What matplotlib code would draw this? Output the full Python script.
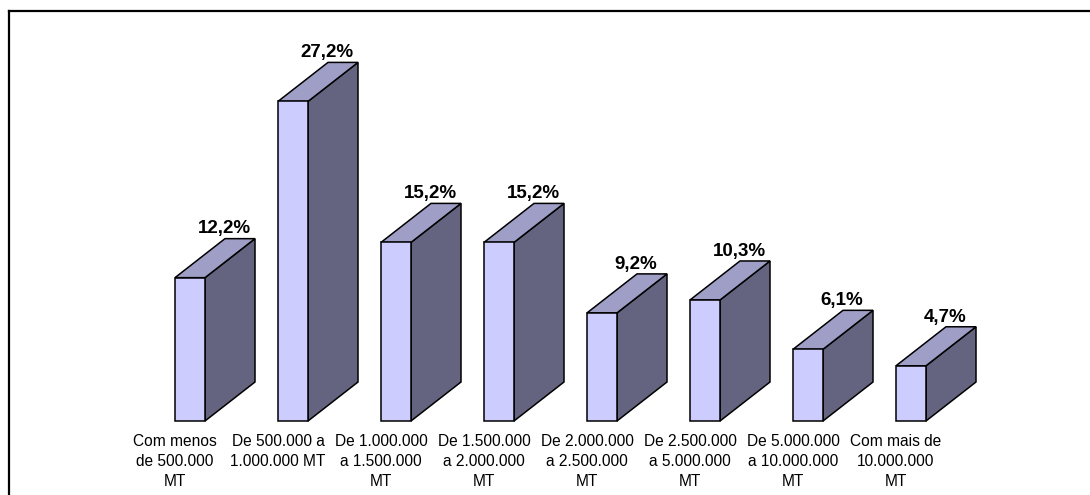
import matplotlib
matplotlib.use("Agg")
import matplotlib.pyplot as plt
from matplotlib.patches import Polygon
from matplotlib.lines import Line2D

plt.rcParams["font.family"] = ["Liberation Sans", "DejaVu Sans"]

categories = [
    "Com menos\nde 500.000\nMT",
    "De 500.000 a\n1.000.000 MT",
    "De 1.000.000\na 1.500.000\nMT",
    "De 1.500.000\na 2.000.000\nMT",
    "De 2.000.000\na 2.500.000\nMT",
    "De 2.500.000\na 5.000.000\nMT",
    "De 5.000.000\na 10.000.000\nMT",
    "Com mais de\n10.000.000\nMT",
]
values = [12.2, 27.2, 15.2, 15.2, 9.2, 10.3, 6.1, 4.7]
value_labels = ["12,2%", "27,2%", "15,2%", "15,2%", "9,2%", "10,3%", "6,1%", "4,7%"]

FRONT = "#CCCCFF"
TOP = "#9E9EC6"
SIDE = "#646480"

W, H, DPI = 1090, 495, 100
fig = plt.figure(figsize=(W / DPI, H / DPI), dpi=DPI)
fig.patch.set_facecolor("white")

# pixel layout: category i label centre at x = 175 + 103*i, base at y = 421,
# 11.75 px per percentage point
ax = fig.add_axes([0, 0, 1, 1])
ax.set_xlim(-175 / 103, (W - 175) / 103)
ax.set_ylim(-(H - 421) / 11.75, 421 / 11.75)
ax.axis("off")

w = 30 / 103      # front face width
dx = 50 / 103     # depth, horizontal
dy = 39 / 11.75   # depth, vertical

for i, v in enumerate(values):
    x0, x1 = i, i + w
    front = [(x0, 0), (x1, 0), (x1, v), (x0, v)]
    side = [(x1, 0), (x1 + dx, dy), (x1 + dx, v + dy), (x1, v)]
    top = [(x0, v), (x1, v), (x1 + dx, v + dy), (x0 + dx, v + dy)]
    for pts, col in ((side, SIDE), (top, TOP), (front, FRONT)):
        ax.add_patch(Polygon(pts, closed=True, facecolor=col,
                             edgecolor="black", linewidth=1.1,
                             joinstyle="miter"))
    ax.annotate(value_labels[i], xy=(i + 49 / 103, v + dy), xytext=(0, 7),
                textcoords="offset points", ha="center", va="center",
                fontsize=13.5, fontweight="bold", color="black")
    ax.annotate(categories[i], xy=(i, 0), xytext=(0, -9.5),
                textcoords="offset points", ha="center", va="top",
                fontsize=11.2, color="black", linespacing=1.42)

# chart area frame (left and top edges visible)
fig.add_artist(Line2D([9 / W, 9 / W], [0, 1 - 11 / H], color="black",
                      linewidth=1.6, transform=fig.transFigure))
fig.add_artist(Line2D([9 / W, 1], [1 - 11 / H, 1 - 11 / H], color="black",
                      linewidth=1.6, transform=fig.transFigure))

fig.savefig("out.png", dpi=DPI, facecolor="white")
